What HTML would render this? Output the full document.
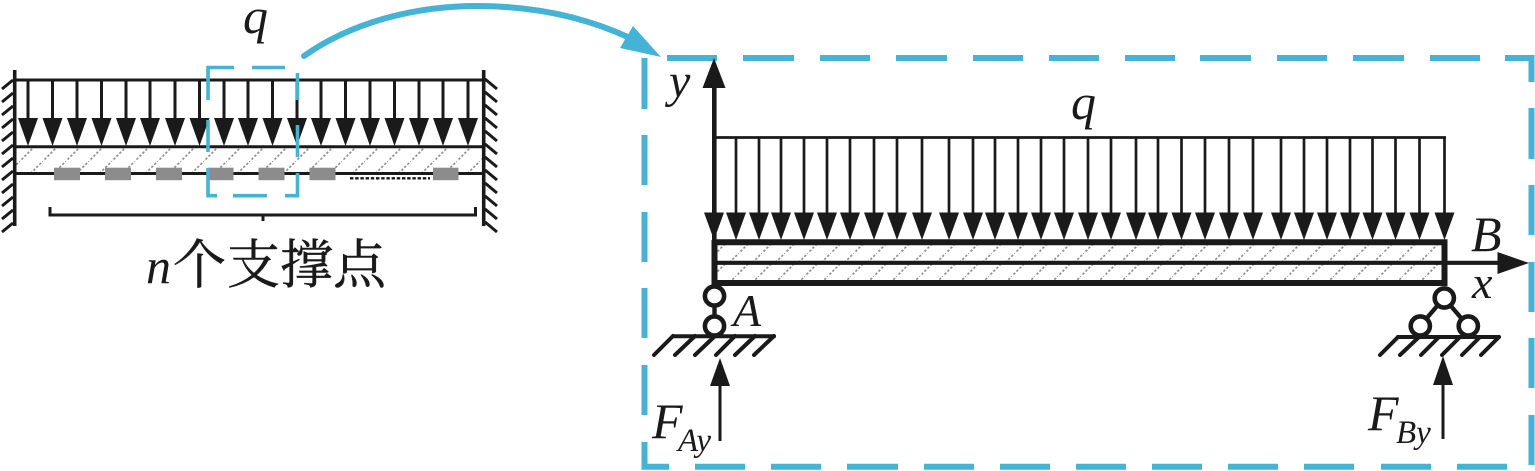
<!DOCTYPE html>
<html><head><meta charset="utf-8"><style>
html,body{margin:0;padding:0;background:#fff}
svg{display:block}
text{fill:#1a1a1a;font-family:"Liberation Serif","Noto Serif CJK SC",serif}
.i{font-style:italic}
</style></head><body>
<svg width="1535" height="471" viewBox="0 0 1535 471" xmlns="http://www.w3.org/2000/svg">
<defs>
<pattern id="h1" width="23" height="23" patternUnits="userSpaceOnUse" patternTransform="translate(20,0)"><line x1="24" y1="-1" x2="-1" y2="24" stroke="#909090" stroke-width="1.7" stroke-dasharray="2.4 1.8"/></pattern>
<pattern id="h2" width="23" height="23" patternUnits="userSpaceOnUse" patternTransform="translate(3,0)"><line x1="24" y1="-1" x2="-1" y2="24" stroke="#909090" stroke-width="1.7" stroke-dasharray="2.4 1.8"/></pattern>
<pattern id="h3" width="23" height="23" patternUnits="userSpaceOnUse" patternTransform="translate(0,0)"><line x1="24" y1="-1" x2="-1" y2="24" stroke="#909090" stroke-width="1.7" stroke-dasharray="2.4 1.8"/></pattern>
<g id="a"><line x1="0" y1="80" x2="0" y2="120" stroke="#1a1a1a" stroke-width="3"/><path d="M-10 118H10L0 146Z" fill="#1a1a1a"/></g>
<g id="b"><line x1="0" y1="137" x2="0" y2="215" stroke="#1a1a1a" stroke-width="2.7"/><path d="M-10 212.5H10L0 240Z" fill="#1a1a1a"/></g>
</defs>
<rect width="1535" height="471" fill="#fff"/>

<!-- left beam -->
<rect x="15" y="147" width="469" height="27" fill="url(#h1)"/>
<g stroke="#1a1a1a" stroke-width="3" fill="none">
<path d="M15 80H484M15 146.7H484M15 173.5H484"/>
<path d="M14.7 70V226M483.7 70V226" stroke-width="3.6"/>
<path d="M13 80L2 89M13 93L2 102M13 106L2 115M13 119L2 128M13 132L2 141M13 145L2 154M13 158L2 167M13 171L2 180M13 184L2 193M13 197L2 206M13 210L2 219M13 223L2 232"/>
<path d="M485 79L497 89M485 92L497 102M485 105L497 115M485 118L497 128M485 131L497 141M485 144L497 154M485 157L497 167M485 170L497 180M485 183L497 193M485 196L497 206M485 209L497 219M485 222L497 232"/>
<path d="M50 207V215H475.5V207M263 215V221"/>
<path d="M350 178.3H430" stroke-width="2.4" stroke-dasharray="3.4 1.8"/>
</g>
<use href="#a" x="28"/><use href="#a" x="52.5"/><use href="#a" x="77"/><use href="#a" x="101.5"/><use href="#a" x="126"/><use href="#a" x="150"/><use href="#a" x="175"/><use href="#a" x="199.5"/><use href="#a" x="224"/><use href="#a" x="248"/><use href="#a" x="272.5"/><use href="#a" x="297"/><use href="#a" x="321"/><use href="#a" x="345.5"/><use href="#a" x="370"/><use href="#a" x="394.5"/><use href="#a" x="419"/><use href="#a" x="443"/><use href="#a" x="468"/>
<g fill="#8c8c8c">
<rect x="54" y="167.7" width="26" height="12.5"/><rect x="105" y="167.7" width="26" height="12.5"/><rect x="156" y="167.7" width="26" height="12.5"/><rect x="208" y="167.7" width="25.5" height="12.5"/><rect x="258.5" y="167.7" width="26" height="12.5"/><rect x="309.5" y="167.7" width="26" height="12.5"/><rect x="433" y="167.7" width="25.5" height="12.5"/>
</g>
<!-- small blue dashed box -->
<g stroke="#45b3d6" stroke-width="3.6" fill="none">
<path d="M208 100V67.5H234M252 67.5H285M297.5 73V100M297.5 125V157M297.5 173V195.7H285M267 195.7H233M217 195.7H208V168M208 152V120"/>
</g>
<text class="i" x="243" y="33" font-size="50">q</text>
<text class="i" x="146" y="283" font-size="50">n</text>
<text x="173 227 280 333" y="283" font-size="53" stroke="#1a1a1a" stroke-width="0.5">个支撑点</text>

<!-- curved arrow -->
<path d="M304 56C355 20 420 6 477 6C535 6 585 17 630 38" stroke="#45b3d6" stroke-width="6" fill="none" stroke-linecap="round"/>
<path d="M661 57L633 26L620 48Z" fill="#45b3d6"/>

<!-- big dashed box -->
<g stroke="#45b3d6" stroke-width="6" fill="none">
<path d="M667 58H717M743 58H794M820 58H870M896 58H947M973 58H1023M1049 58H1099M1125 58H1175M1200 58H1251M1277 58H1327M1353 58H1404M1430 58H1480M1505 58H1531.5V82M1531.5 108V159M1531.5 185V235M1531.5 262V312M1531.5 338V388M1531.5 415V465"/>
<path d="M644.5 58V109M644.5 135V185M644.5 212V262M644.5 288V338M644.5 365V415M644.5 442V466.7H669M695 466.7H745M771 466.7H821M847 466.7H898M924 466.7H974M1000 466.7H1050M1076 466.7H1126M1152 466.7H1202M1228 466.7H1278M1304 466.7H1354M1381 466.7H1431M1457 466.7H1507"/>
</g>

<!-- right beam -->
<rect x="714" y="243" width="732" height="19" fill="url(#h2)"/>
<rect x="714" y="264" width="732" height="18" fill="url(#h3)"/>
<path d="M714 137.5H1446" stroke="#1a1a1a" stroke-width="2.7"/>
<use href="#b" x="736"/><use href="#b" x="759"/><use href="#b" x="781"/><use href="#b" x="804"/><use href="#b" x="827"/><use href="#b" x="850"/><use href="#b" x="874"/><use href="#b" x="897"/><use href="#b" x="922"/><use href="#b" x="949"/><use href="#b" x="973"/><use href="#b" x="995"/><use href="#b" x="1018"/><use href="#b" x="1041"/><use href="#b" x="1064"/><use href="#b" x="1088"/><use href="#b" x="1111"/><use href="#b" x="1136"/><use href="#b" x="1158"/><use href="#b" x="1181.5"/><use href="#b" x="1205"/><use href="#b" x="1229"/><use href="#b" x="1253"/><use href="#b" x="1281"/><use href="#b" x="1304"/><use href="#b" x="1327"/><use href="#b" x="1350"/><use href="#b" x="1372.5"/><use href="#b" x="1395.5"/><use href="#b" x="1419.5"/><use href="#b" x="1444.5"/>
<path d="M-10 212.5H10L0 240Z" transform="translate(714,0)" fill="#1a1a1a"/>
<g stroke="#1a1a1a" fill="none">
<path d="M712 242.2H1447.5M712 283H1447.5" stroke-width="6"/>
<path d="M714.5 240V286M1444.5 240V286" stroke-width="6"/>
<path d="M714 262.8H1505" stroke-width="4.2"/>
<path d="M714.3 240V85" stroke-width="4.6"/>
</g>
<path d="M714 58L725.5 88H702.5Z" fill="#1a1a1a"/>
<path d="M1529 263L1497.5 252V274Z" fill="#1a1a1a"/>

<!-- support A -->
<g stroke="#1a1a1a" fill="#fff">
<line x1="714.5" y1="300" x2="714.5" y2="325" stroke-width="4.4"/>
<circle cx="714.5" cy="296" r="9.6" stroke-width="4.6"/>
<circle cx="714.5" cy="326" r="9.6" stroke-width="4.6"/>
</g>
<g stroke="#1a1a1a" stroke-width="4" fill="none" stroke-linecap="round">
<path d="M673 336.3H774"/>
<path d="M673 336L654 355M695 336L675 355M715 336L695 355M735 336L716 355M755 336L735 355M774 336L754 355"/>
</g>
<path d="M720 358L730 386H710Z" fill="#1a1a1a"/>
<line x1="720" y1="384" x2="720" y2="441" stroke="#1a1a1a" stroke-width="3"/>

<!-- support B -->
<g stroke="#1a1a1a" fill="#fff">
<path d="M1420 326L1444 298L1468 326" stroke-width="4.4" fill="none"/>
<circle cx="1444.3" cy="298" r="9.6" stroke-width="4.6"/>
<circle cx="1420.3" cy="326" r="9.6" stroke-width="4.6"/>
<circle cx="1468.3" cy="326" r="9.6" stroke-width="4.6"/>
</g>
<g stroke="#1a1a1a" stroke-width="4" fill="none" stroke-linecap="round">
<path d="M1398 337H1499"/>
<path d="M1398 337L1380 355M1419 337L1400 355M1439 337L1421 355M1460 337L1442 355M1480 337L1462 355M1499 337L1481 355"/>
</g>
<path d="M1443 356L1453 385H1433Z" fill="#1a1a1a"/>
<line x1="1443" y1="383" x2="1443" y2="439" stroke="#1a1a1a" stroke-width="3"/>

<!-- labels -->
<text class="i" x="669" y="97" font-size="48">y</text>
<text class="i" x="1071" y="119" font-size="50">q</text>
<text class="i" x="1471" y="251" font-size="50">B</text>
<text class="i" x="1472" y="298" font-size="46">x</text>
<text class="i" x="733" y="326" font-size="46">A</text>
<text class="i" x="652" y="438" font-size="50">F</text>
<text class="i" x="678" y="451" font-size="33">Ay</text>
<text class="i" x="1368" y="430" font-size="50">F</text>
<text class="i" x="1396" y="443" font-size="33">By</text>
</svg>
</body></html>
